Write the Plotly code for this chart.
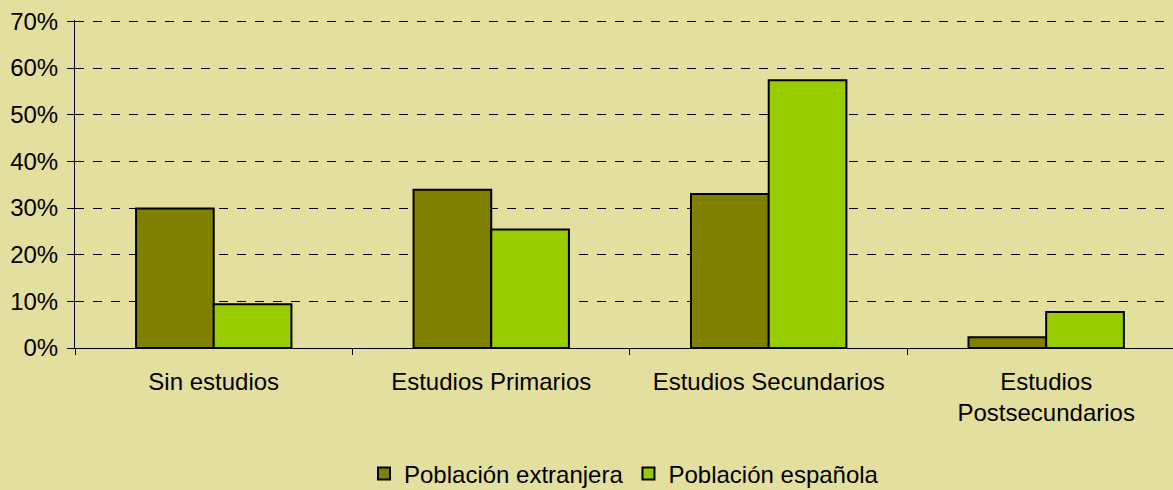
import plotly.graph_objects as go

categories = ["Sin estudios", "Estudios Primarios", "Estudios Secundarios", "Estudios<br>Postsecundarios"]
extranjera = [29.9, 33.9, 33.0, 2.3]
espanola = [9.4, 25.4, 57.4, 7.7]
y_ticks = [0, 10, 20, 30, 40, 50, 60, 70]
y_labels = [f"{v}%" for v in y_ticks]

bg = "#E3DF9F"
font = dict(family="Liberation Sans, Arial, sans-serif", size=24, color="#000000")

fig = go.Figure()
fig.add_trace(go.Bar(name="Población extranjera", x=categories, y=extranjera,
                     marker=dict(color="#808000", line=dict(color="#000000", width=2))))
fig.add_trace(go.Bar(name="Población española", x=categories, y=espanola,
                     marker=dict(color="#99CC00", line=dict(color="#000000", width=2))))

fig.update_layout(
    width=1173, height=490,
    paper_bgcolor=bg, plot_bgcolor=bg,
    margin=dict(l=75, r=0, t=20, b=142, autoexpand=False),
    barmode="group", bargap=0.44, bargroupgap=0,
    font=font,
    showlegend=True,
    legend=dict(orientation="h", x=0.5, xanchor="center", yref="paper",
                y=-0.384, yanchor="middle",
                font=dict(size=24), itemwidth=30, traceorder="normal",
                itemsizing="constant", bgcolor="rgba(0,0,0,0)"),
)
fig.update_xaxes(
    range=[-0.5, 3.457], tickson="boundaries", ticks="outside", ticklen=6,
    tickcolor="#000000", showline=True, linecolor="#000000", linewidth=1,
    showgrid=False, tickfont=font, automargin=False, ticklabelstandoff=12,
)
fig.update_yaxes(
    range=[0, 70.3], tickvals=y_ticks, ticktext=y_labels, ticks="outside", ticklen=7,
    tickcolor="#000000", showline=True, linecolor="#000000", linewidth=1,
    showgrid=True, gridcolor="#000000", griddash="dash", gridwidth=1,
    zeroline=False, tickfont=font, automargin=False, ticklabelstandoff=4,
)
fig.write_html("out.html", config={"displayModeBar": False},
               post_script="document.body.style.margin='0';document.body.style.background='%s';" % bg)
